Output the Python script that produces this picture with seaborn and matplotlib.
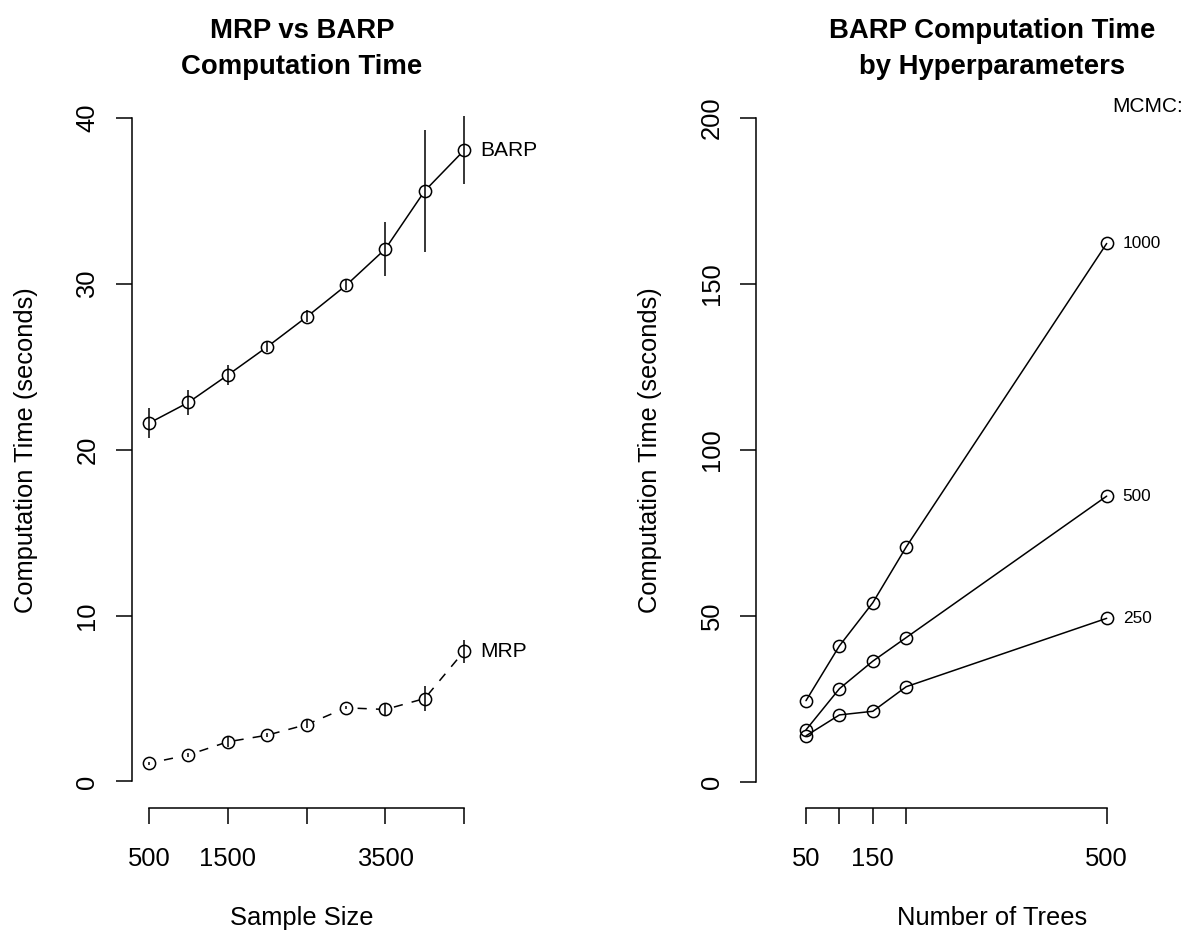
import matplotlib
matplotlib.use("Agg")
import matplotlib.pyplot as plt
import seaborn as sns
import pandas as pd
import numpy as np

# ---------------- data ----------------
sample_size = [500, 1000, 1500, 2000, 2500, 3000, 3500, 4000, 4500]
barp_time = [21.6, 22.85, 24.5, 26.2, 28.0, 29.9, 32.1, 35.6, 38.05]
barp_lo = [20.7, 22.1, 23.9, 25.9, 27.7, 29.6, 30.5, 31.9, 36.0]
barp_hi = [22.5, 23.6, 25.1, 26.5, 28.4, 30.3, 33.7, 39.3, 40.1]
mrp_time = [1.1, 1.6, 2.39, 2.79, 3.43, 4.44, 4.34, 5.0, 7.85]
mrp_lo = [1.0, 1.5, 2.1, 2.7, 3.2, 4.35, 4.0, 4.24, 7.15]
mrp_hi = [1.2, 1.7, 2.7, 2.9, 3.7, 4.55, 4.7, 5.78, 8.5]

left_xticks = [500, 1500, 2500, 3500, 4500]
left_xticklabels = ["500", "1500", "", "3500", ""]
left_yticks = [0, 10, 20, 30, 40]

n_trees = [50, 100, 150, 200, 500]
mcmc_1000 = [24.5, 41.0, 54.0, 70.8, 162.2]
mcmc_500 = [15.7, 28.1, 36.4, 43.5, 86.1]
mcmc_250 = [13.9, 20.2, 21.3, 28.7, 49.3]
mcmc_labels = ["1000", "500", "250"]

right_xticks = [50, 100, 150, 200, 500]
right_xticklabels = ["50", "", "150", "", "500"]
right_yticks = [0, 50, 100, 150, 200]

# ---------------- style ----------------
sns.set_theme(style="white")
plt.rcParams["font.family"] = ["Liberation Sans", "DejaVu Sans"]
plt.rcParams["text.color"] = "black"
plt.rcParams["axes.labelcolor"] = "black"

W, H = 1181, 930
fig = plt.figure(figsize=(W / 100, H / 100), dpi=100)


def px_axes(l, t, r, b):
    return fig.add_axes([l / W, 1 - b / H, (r - l) / W, (b - t) / H])


LW = 1.1
TICK_FS = 18.4
MS = 8.8


def style_axes(ax, xb, yb):
    for s in ["top", "right"]:
        ax.spines[s].set_visible(False)
    for s in ["left", "bottom"]:
        ax.spines[s].set_color("black")
        ax.spines[s].set_linewidth(LW)
    ax.spines["left"].set_bounds(*yb)
    ax.spines["bottom"].set_bounds(*xb)
    ax.tick_params(axis="both", which="major", direction="out", length=11.2,
                   width=LW, color="black", labelsize=TICK_FS, labelcolor="black",
                   bottom=True, left=True)
    ax.tick_params(axis="x", pad=17)
    ax.tick_params(axis="y", pad=12, labelrotation=90)
    for lab in ax.get_yticklabels():
        lab.set_va("center")
    ax.set_xlabel("")
    ax.set_ylabel("")
    ax.grid(False)
    ax.set_facecolor("white")


# ---------------- left panel ----------------
axL = px_axes(131.7, 91.4, 598, 808)
dfL = pd.DataFrame({"n": sample_size, "barp": barp_time, "mrp": mrp_time})
sns.lineplot(data=dfL, x="n", y="barp", ax=axL, color="black", lw=LW,
             marker="o", markersize=MS, markerfacecolor="white",
             markeredgecolor="black", markeredgewidth=LW, zorder=2)
sns.lineplot(data=dfL, x="n", y="mrp", ax=axL, color="black", lw=LW,
             linestyle=(2, (6, 6)),
             marker="o", markersize=MS, markerfacecolor="white",
             markeredgecolor="black", markeredgewidth=LW, zorder=2)
axL.vlines(sample_size, barp_lo, barp_hi, color="black", lw=LW, zorder=3)
axL.vlines(sample_size, mrp_lo, mrp_hi, color="black", lw=LW, zorder=3)
axL.set_xlim(280, 6200)
axL.set_ylim(-1.6, 41.6)
axL.set_xticks(left_xticks)
axL.set_xticklabels(left_xticklabels)
axL.set_yticks(left_yticks)
axL.set_yticklabels([str(v) for v in left_yticks])
style_axes(axL, (500, 4500), (0, 40))
axL.annotate("BARP", xy=(sample_size[-1], barp_time[-1]), xytext=(11.5, 0),
             textcoords="offset points", ha="left", va="center", fontsize=15.1,
             color="black")
axL.annotate("MRP", xy=(sample_size[-1], mrp_time[-1]), xytext=(11.5, 0),
             textcoords="offset points", ha="left", va="center", fontsize=15.1,
             color="black")

# ---------------- right panel ----------------
axR = px_axes(756, 91.4, 1181, 808)
for vals, lab in zip([mcmc_1000, mcmc_500, mcmc_250], mcmc_labels):
    dfR = pd.DataFrame({"trees": n_trees, "time": vals})
    sns.lineplot(data=dfR, x="trees", y="time", ax=axR, color="black", lw=LW,
                 marker="o", markersize=MS, markerfacecolor="none",
                 markeredgecolor="black", markeredgewidth=LW)
    axR.annotate(lab, xy=(n_trees[-1], vals[-1]), xytext=(11.5, 0),
                 textcoords="offset points", ha="left", va="center",
                 fontsize=12.4, color="black")
axR.set_xlim(-24.8, 611.2)
axR.set_ylim(-7.83, 208.0)
axR.set_xticks(right_xticks)
axR.set_xticklabels(right_xticklabels)
axR.set_yticks(right_yticks)
axR.set_yticklabels([str(v) for v in right_yticks])
style_axes(axR, (50, 500), (0, 200))

# ---------------- titles / labels ----------------
TITLE_FS = 19.8
LC, RC = 302, 992
fig.text(LC / W, 1 - 31 / H, "MRP vs BARP", ha="center", va="center",
         fontsize=TITLE_FS, fontweight="bold")
fig.text(LC / W, 1 - 67 / H, "Computation Time", ha="center", va="center",
         fontsize=TITLE_FS, fontweight="bold")
fig.text(RC / W, 1 - 31 / H, "BARP Computation Time", ha="center", va="center",
         fontsize=TITLE_FS, fontweight="bold")
fig.text(RC / W, 1 - 67 / H, "by Hyperparameters", ha="center", va="center",
         fontsize=TITLE_FS, fontweight="bold")
fig.text(LC / W, 1 - 918 / H, "Sample Size", ha="center", va="center",
         fontsize=TICK_FS)
fig.text(RC / W, 1 - 918 / H, "Number of Trees", ha="center", va="center",
         fontsize=TICK_FS)
fig.text(25.7 / W, 1 - 450 / H, "Computation Time (seconds)", ha="center",
         va="center", rotation=90, fontsize=TICK_FS)
fig.text(650 / W, 1 - 450 / H, "Computation Time (seconds)", ha="center",
         va="center", rotation=90, fontsize=TICK_FS)
fig.text(1112 / W, 1 - 106 / H, "MCMC:", ha="left", va="center", fontsize=15)

fig.savefig("out.png", dpi=100, facecolor="white")
